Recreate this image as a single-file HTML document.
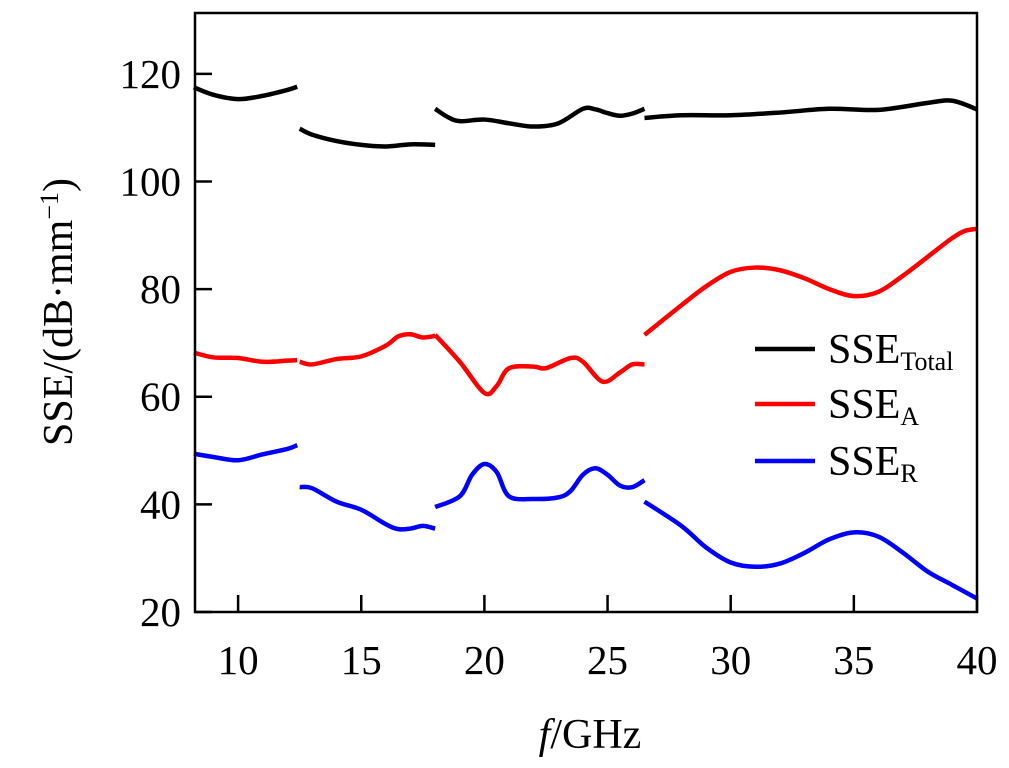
<!DOCTYPE html>
<html><head><meta charset="utf-8"><style>
html,body{margin:0;padding:0;background:#fff;}
svg{display:block;font-family:"Liberation Serif",serif;}
</style></head><body>
<svg id="chart" width="1009" height="768" viewBox="0 0 1009 768" xmlns="http://www.w3.org/2000/svg"></svg>
<script>
const xTicks=[10,15,20,25,30,35,40];
const yTicks=[20,40,60,80,100,120];
const totalSeg1=[[8.2,117.5],[9,116.1],[10,115.3],[11,115.9],[12,117],[12.4,117.6]];
const totalSeg2=[[12.5,109.8],[13,108.7],[14,107.5],[15,106.8],[16,106.5],[17,106.9],[18,106.8]];
const totalSeg3=[[18,113.5],[18.5,112],[19,111.2],[20,111.5],[21,110.8],[22,110.2],[23,110.8],[24,113.5],[24.5,113.4],[25,112.7],[25.5,112.2],[26,112.6],[26.5,113.5]];
const totalSeg4=[[26.5,111.8],[28,112.3],[30,112.3],[32,112.8],[34,113.5],[36,113.3],[38,114.6],[39,115],[40,113.4]];
const aSeg1=[[8.2,68.2],[9,67.3],[10,67.2],[11,66.5],[12,66.7],[12.4,66.8]];
const aSeg2=[[12.5,66.5],[13,66],[14,67],[15,67.5],[16,69.5],[16.5,71.2],[17,71.6],[17.5,71],[18,71.3]];
const aSeg3=[[18,71.5],[19,66.5],[20,60.7],[20.5,62],[21,65.3],[22,65.6],[22.5,65.3],[23.5,67.2],[24,66.5],[24.8,62.8],[25.5,64.5],[26,66],[26.5,66]];
const aSeg4=[[26.5,71.5],[28,77],[29,80.5],[30,83.2],[31,84],[32,83.5],[33,82],[34,80],[35,78.7],[36,79.5],[37,82.5],[38,86],[39,89.5],[39.5,90.8],[40,91.2]];
const rSeg1=[[8.2,49.4],[9,48.8],[10,48.2],[11,49.3],[12,50.3],[12.4,51]];
const rSeg2=[[12.5,43.2],[13,43],[14,40.5],[15,39],[16,36.3],[16.5,35.4],[17,35.5],[17.5,36],[18,35.5]];
const rSeg3=[[18,39.5],[19,41.5],[19.5,45.5],[20,47.5],[20.5,46],[21,41.5],[22,41],[23,41.3],[23.5,42.5],[24,45.5],[24.5,46.7],[25,45.5],[25.5,43.5],[26,43.2],[26.5,44.5]];
const rSeg4=[[26.5,40.5],[28,36],[29,32],[30,29.2],[31,28.4],[32,29],[33,31],[34,33.5],[35,34.8],[36,34],[37,31],[38,27.5],[39,25],[40,22.5]];

const L=195,R=977,T=13,B=612,xMin=8.25,xMax=40,yMin=20,yMax=131.3;
const xs=v=>L+(v-xMin)/(xMax-xMin)*(R-L);
const ys=v=>B-(v-yMin)/(yMax-yMin)*(B-T);
const svg=document.getElementById('chart');
const NS='http://www.w3.org/2000/svg';
function mk(tag,attrs){const e=document.createElementNS(NS,tag);for(const k in attrs)e.setAttribute(k,attrs[k]);svg.appendChild(e);return e;}
function smooth(pts){
  const p=pts.map(d=>[xs(d[0]),ys(d[1])]);
  let d='M'+p[0][0]+','+p[0][1];
  for(let i=0;i<p.length-1;i++){
    const p0=p[i-1]||p[i],p1=p[i],p2=p[i+1],p3=p[i+2]||p2;
    const c1=[p1[0]+(p2[0]-p0[0])/6,p1[1]+(p2[1]-p0[1])/6];
    const c2=[p2[0]-(p3[0]-p1[0])/6,p2[1]-(p3[1]-p1[1])/6];
    d+=' C'+c1+' '+c2+' '+p2;
  }
  return d;
}
const series=[
  {name:'total',color:'#000',segs:[totalSeg1,totalSeg2,totalSeg3,totalSeg4]},
  {name:'a',color:'#ff0000',segs:[aSeg1,aSeg2,aSeg3,aSeg4]},
  {name:'r',color:'#0000ff',segs:[rSeg1,rSeg2,rSeg3,rSeg4]}];
series.forEach(s=>s.segs.forEach((seg,i)=>{
  const e=mk('path',{d:smooth(seg),fill:'none',stroke:s.color,'stroke-width':4.5,'stroke-linecap':'butt'});
  
  
}));
const frame=mk('rect',{x:L,y:T,width:R-L,height:B-T,fill:'none',stroke:'#000','stroke-width':2.5});


xTicks.forEach(v=>{
  const t=mk('line',{x1:xs(v),x2:xs(v),y1:B,y2:B-17,stroke:'#000','stroke-width':2.5});
  
  
  const l=mk('text',{x:xs(v),y:B+62,'font-size':41,'text-anchor':'middle'});
  l.textContent=v;
  
  
});
yTicks.forEach(v=>{
  const t=mk('line',{x1:L,x2:L+17,y1:ys(v),y2:ys(v),stroke:'#000','stroke-width':2.5});
  
  
  const l=mk('text',{x:L-14,y:ys(v)+14,'font-size':41,'text-anchor':'end'});
  l.textContent=v;
  
  
});
</script>
<svg style="position:absolute;left:0;top:0" width="1009" height="768">
<text x="590" y="748" font-size="42" text-anchor="middle" font-family="Liberation Serif, serif"><tspan font-style="italic">f</tspan>/GHz</text>
<text transform="translate(72,312) rotate(-90)" font-size="42" text-anchor="middle" font-family="Liberation Serif, serif">SSE/(dB·mm<tspan baseline-shift="super" font-size="26">−1</tspan>)</text>
<g font-family="Liberation Serif, serif" font-size="42">
<line x1="755" x2="815" y1="349" y2="349" stroke="#000" stroke-width="4.5"/>
<text x="828" y="363">SSE<tspan font-size="26" dy="7">Total</tspan></text>
<line x1="755" x2="815" y1="404" y2="404" stroke="#f00" stroke-width="4.5"/>
<text x="828" y="418">SSE<tspan font-size="26" dy="7">A</tspan></text>
<line x1="755" x2="815" y1="461" y2="461" stroke="#00f" stroke-width="4.5"/>
<text x="828" y="475">SSE<tspan font-size="26" dy="7">R</tspan></text>
</g>
</svg>
</body></html>
